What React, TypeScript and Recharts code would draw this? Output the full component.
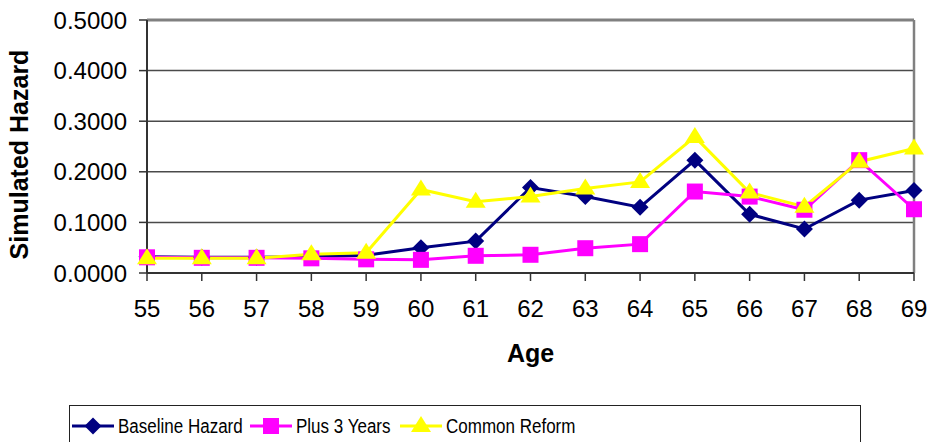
import { LineChart, Line, XAxis, YAxis, CartesianGrid, Legend, ReferenceLine } from "recharts";

const ages = [55, 56, 57, 58, 59, 60, 61, 62, 63, 64, 65, 66, 67, 68, 69];
const baselineHazard = [0.032, 0.031, 0.031, 0.032, 0.035, 0.05, 0.063, 0.169, 0.151, 0.13, 0.223, 0.116, 0.087, 0.144, 0.163];
const plus3Years = [0.031, 0.03, 0.03, 0.029, 0.027, 0.026, 0.034, 0.036, 0.049, 0.057, 0.161, 0.151, 0.125, 0.223, 0.126];
const commonReform = [0.029, 0.029, 0.029, 0.037, 0.04, 0.165, 0.141, 0.151, 0.167, 0.18, 0.269, 0.159, 0.131, 0.22, 0.246];
const yTicks = [0, 0.1, 0.2, 0.3, 0.4, 0.5];

const data = ages.map((age, i) => ({
  age,
  baseline: baselineHazard[i],
  plus3: plus3Years[i],
  common: commonReform[i],
}));

const FONT = "'Liberation Sans', Arial, sans-serif";
const NAVY = "#000080";
const MAGENTA = "#FF00FF";
const YELLOW = "#FFFF00";

type Shape = "diamond" | "square" | "triangle";

function marker(shape: Shape, cx: number, cy: number, color: string, key?: string | number) {
  if (shape === "diamond") {
    return <path key={key} d={`M${cx},${cy - 8.5}L${cx + 8.5},${cy}L${cx},${cy + 8.5}L${cx - 8.5},${cy}Z`} fill={color} />;
  }
  if (shape === "square") {
    return <rect key={key} x={cx - 8} y={cy - 8} width={16} height={16} fill={color} />;
  }
  return <path key={key} d={`M${cx},${cy - 10}L${cx + 10},${cy + 6}L${cx - 10},${cy + 6}Z`} fill={color} />;
}

const dotFor = (shape: Shape, color: string) => (props: any) =>
  marker(shape, props.cx, props.cy, color, props.key ?? props.index);

// legend entries, with each entry's left offset inside the box
const legendItems: { label: string; color: string; shape: Shape; left: number }[] = [
  { label: "Baseline Hazard", color: NAVY, shape: "diamond", left: 2 },
  { label: "Plus 3 Years", color: MAGENTA, shape: "square", left: 180 },
  { label: "Common Reform", color: YELLOW, shape: "triangle", left: 330 },
];

function LegendBox() {
  return (
    <div
      style={{
        position: "relative",
        boxSizing: "border-box",
        width: 792,
        height: 37,
        border: "1px solid #222",
        borderBottom: "none",
        background: "#fff",
        fontFamily: FONT,
        fontSize: 20,
        color: "#000",
        whiteSpace: "nowrap",
      }}
    >
      {legendItems.map((it) => (
        <div
          key={it.label}
          style={{ position: "absolute", left: it.left, top: 9, height: 22, display: "flex", alignItems: "center" }}
        >
          <svg width={42} height={22} style={{ marginRight: 4, display: "block" }}>
            <line x1={0} y1={11} x2={42} y2={11} stroke={it.color} strokeWidth={3} />
            {marker(it.shape, 21, 11, it.color)}
          </svg>
          <span style={{ display: "inline-block", transform: "scaleX(0.85)", transformOrigin: "left center", lineHeight: "22px" }}>
            {it.label}
          </span>
        </div>
      ))}
    </div>
  );
}

function YTitle({ viewBox }: any) {
  const x = viewBox.x + 28;
  const y = viewBox.y + viewBox.height / 2 + 8;
  return (
    <text
      x={x}
      y={y}
      transform={`rotate(-90, ${x}, ${y})`}
      textAnchor="middle"
      fontFamily={FONT}
      fontSize={25}
      fontWeight="bold"
      fill="#000"
    >
      Simulated Hazard
    </text>
  );
}

export default function App() {
  return (
    <div style={{ position: "absolute", left: 0, top: 0, width: 931, height: 442, overflow: "hidden", background: "#fff" }}>
      <LineChart width={931} height={442} data={data} margin={{ top: 20, right: 17, left: 0, bottom: 0 }}>
        <CartesianGrid vertical={false} stroke="#4a4a4a" strokeWidth={1.5} />
        <XAxis
          dataKey="age"
          type="category"
          interval={0}
          height={169}
          tickSize={8}
          tickMargin={19}
          axisLine={{ stroke: "#333", strokeWidth: 2 }}
          tickLine={{ stroke: "#333", strokeWidth: 1.5 }}
          tick={{ fontSize: 24, fontFamily: FONT, fill: "#000" }}
          label={{
            value: "Age",
            position: "insideTop",
            offset: 71,
            fontSize: 25,
            fontWeight: "bold",
            fontFamily: FONT,
            fill: "#000",
          }}
        />
        <YAxis
          width={147}
          domain={[0, 0.5]}
          ticks={yTicks}
          interval={0}
          tickSize={8}
          tickMargin={12}
          tickFormatter={(v: number) => v.toFixed(4)}
          axisLine={{ stroke: "#333", strokeWidth: 2 }}
          tickLine={{ stroke: "#333", strokeWidth: 1.5 }}
          tick={{ fontSize: 24, fontFamily: FONT, fill: "#000" }}
          label={<YTitle />}
        />
        <ReferenceLine y={0.5} stroke="#808080" strokeWidth={3} />
        <ReferenceLine x={69} stroke="#808080" strokeWidth={2.5} />
        <Legend
          layout="horizontal"
          verticalAlign="middle"
          align="center"
          wrapperStyle={{ left: 69, top: 405, width: 792 }}
          content={() => <LegendBox />}
        />
        <Line
          dataKey="baseline"
          name="Baseline Hazard"
          stroke={NAVY}
          strokeWidth={3}
          dot={dotFor("diamond", NAVY)}
          activeDot={false}
          isAnimationActive={false}
        />
        <Line
          dataKey="plus3"
          name="Plus 3 Years"
          stroke={MAGENTA}
          strokeWidth={3}
          dot={dotFor("square", MAGENTA)}
          activeDot={false}
          isAnimationActive={false}
        />
        <Line
          dataKey="common"
          name="Common Reform"
          stroke={YELLOW}
          strokeWidth={3}
          dot={dotFor("triangle", YELLOW)}
          activeDot={false}
          isAnimationActive={false}
        />
      </LineChart>
    </div>
  );
}
